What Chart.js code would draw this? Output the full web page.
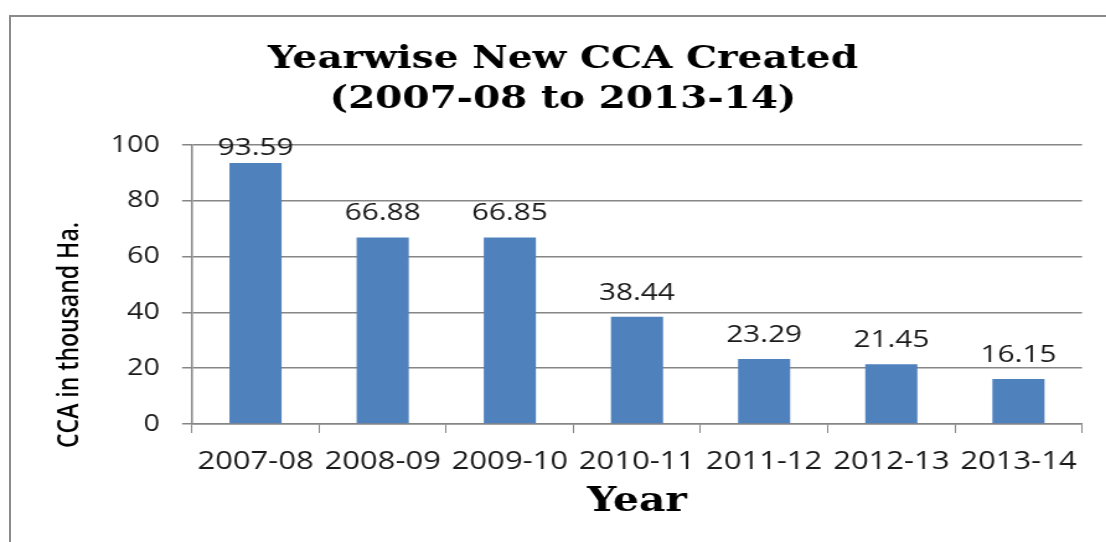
<!DOCTYPE html>
<html>
<head>
<meta charset="utf-8">
<script src="https://cdn.jsdelivr.net/npm/chart.js@4"></script>
<style>
  body { margin: 0; overflow: hidden; background: #fff; width: 1106px; height: 542px; }
  #frame { position: absolute; left: 9px; top: 15px; width: 2000px; height: 2000px; border: 2px solid #8a8a8a; }
  #wrap { position: absolute; left: 0; top: 0; width: 892px; height: 542px; transform: scaleX(1.24); transform-origin: 0 0; }
</style>
</head>
<body>
<div id="frame"></div>
<div id="wrap"><canvas id="myChart" width="892" height="542"></canvas></div>
<script>
// values
const years = ["2007-08", "2008-09", "2009-10", "2010-11", "2011-12", "2012-13", "2013-14"];
const ccaCreated = [93.59, 66.88, 66.85, 38.44, 23.29, 21.45, 16.15];
const yTicks = [0, 20, 40, 60, 80, 100];

const labelFont = "'Open Sans', 'Noto Sans', sans-serif";
const serifBold = "'DejaVu Serif', serif";

// value labels above each bar
const barValues = {
    id: "barValues",
    afterDatasetsDraw(chart) {
        const ctx = chart.ctx;
        const meta = chart.getDatasetMeta(0);
        ctx.save();
        ctx.font = "24px " + labelFont;
        ctx.fillStyle = "#1a1a1a";
        ctx.textAlign = "center";
        ctx.textBaseline = "middle";
        meta.data.forEach((bar, i) => {
            let y = bar.y - 24;
            if (y < chart.chartArea.top + 3) y = chart.chartArea.top + 3;
            ctx.fillText(ccaCreated[i].toFixed(2), bar.x, y);
        });
        ctx.restore();
    },
};

// y axis title, placed like the original (a bit below the plot centre)
const yTitle = {
    id: "yTitle",
    afterDraw(chart) {
        const ctx = chart.ctx;
        ctx.save();
        ctx.translate(56.5, 335);
        ctx.rotate(-Math.PI / 2);
        ctx.font = "600 23px " + labelFont;
        ctx.fillStyle = "#000";
        ctx.textAlign = "center";
        ctx.textBaseline = "middle";
        ctx.fillText("CCA in thousand Ha.", 0, 0);
        ctx.restore();
    },
};

new Chart("myChart", {
    type: "bar",
    data: {
        labels: years,
        datasets: [
            {
                data: ccaCreated,
                backgroundColor: "#4F81BD",
                barPercentage: 0.41,
                categoryPercentage: 1,
            },
        ],
    },
    options: {
        responsive: false,
        animation: false,
        layout: { padding: { left: 35.4, right: 19.4, top: 0, bottom: 0 } },
        plugins: {
            legend: { display: false },
            tooltip: { enabled: false },
            title: {
                display: true,
                text: ["Yearwise New CCA Created", "(2007-08 to 2013-14)"],
                color: "#000",
                font: { family: serifBold, size: 31.5, weight: "bold", lineHeight: 1.27 },
                padding: { top: 40, bottom: 25 },
            },
        },
        scales: {
            x: {
                afterFit: (s) => { s.height = 118; },
                grid: {
                    offset: true,
                    drawOnChartArea: false,
                    color: "#868686",
                    tickLength: 9,
                },
                border: { color: "#868686", width: 1.5 },
                ticks: {
                    color: "#1a1a1a",
                    font: { family: labelFont, size: 25 },
                    padding: 14,
                    maxRotation: 0,
                    autoSkip: false,
                },
                title: {
                    display: true,
                    text: "Year",
                    color: "#000",
                    font: { family: serifBold, size: 33, weight: "bold", lineHeight: 1.2 },
                    padding: { top: 0, bottom: 20 },
                },
            },
            y: {
                min: 0,
                max: 100,
                afterFit: (s) => { s.width = 119.4; },
                afterBuildTicks: (s) => { s.ticks = yTicks.map((v) => ({ value: v })); },
                grid: {
                    color: "#868686",
                    lineWidth: 1.5,
                    tickLength: 8,
                },
                border: { color: "#868686", width: 1.5 },
                ticks: {
                    color: "#1a1a1a",
                    font: { family: labelFont, size: 23 },
                    padding: 18,
                },
            },
        },
    },
    plugins: [barValues, yTitle],
});
</script>
</body>
</html>
